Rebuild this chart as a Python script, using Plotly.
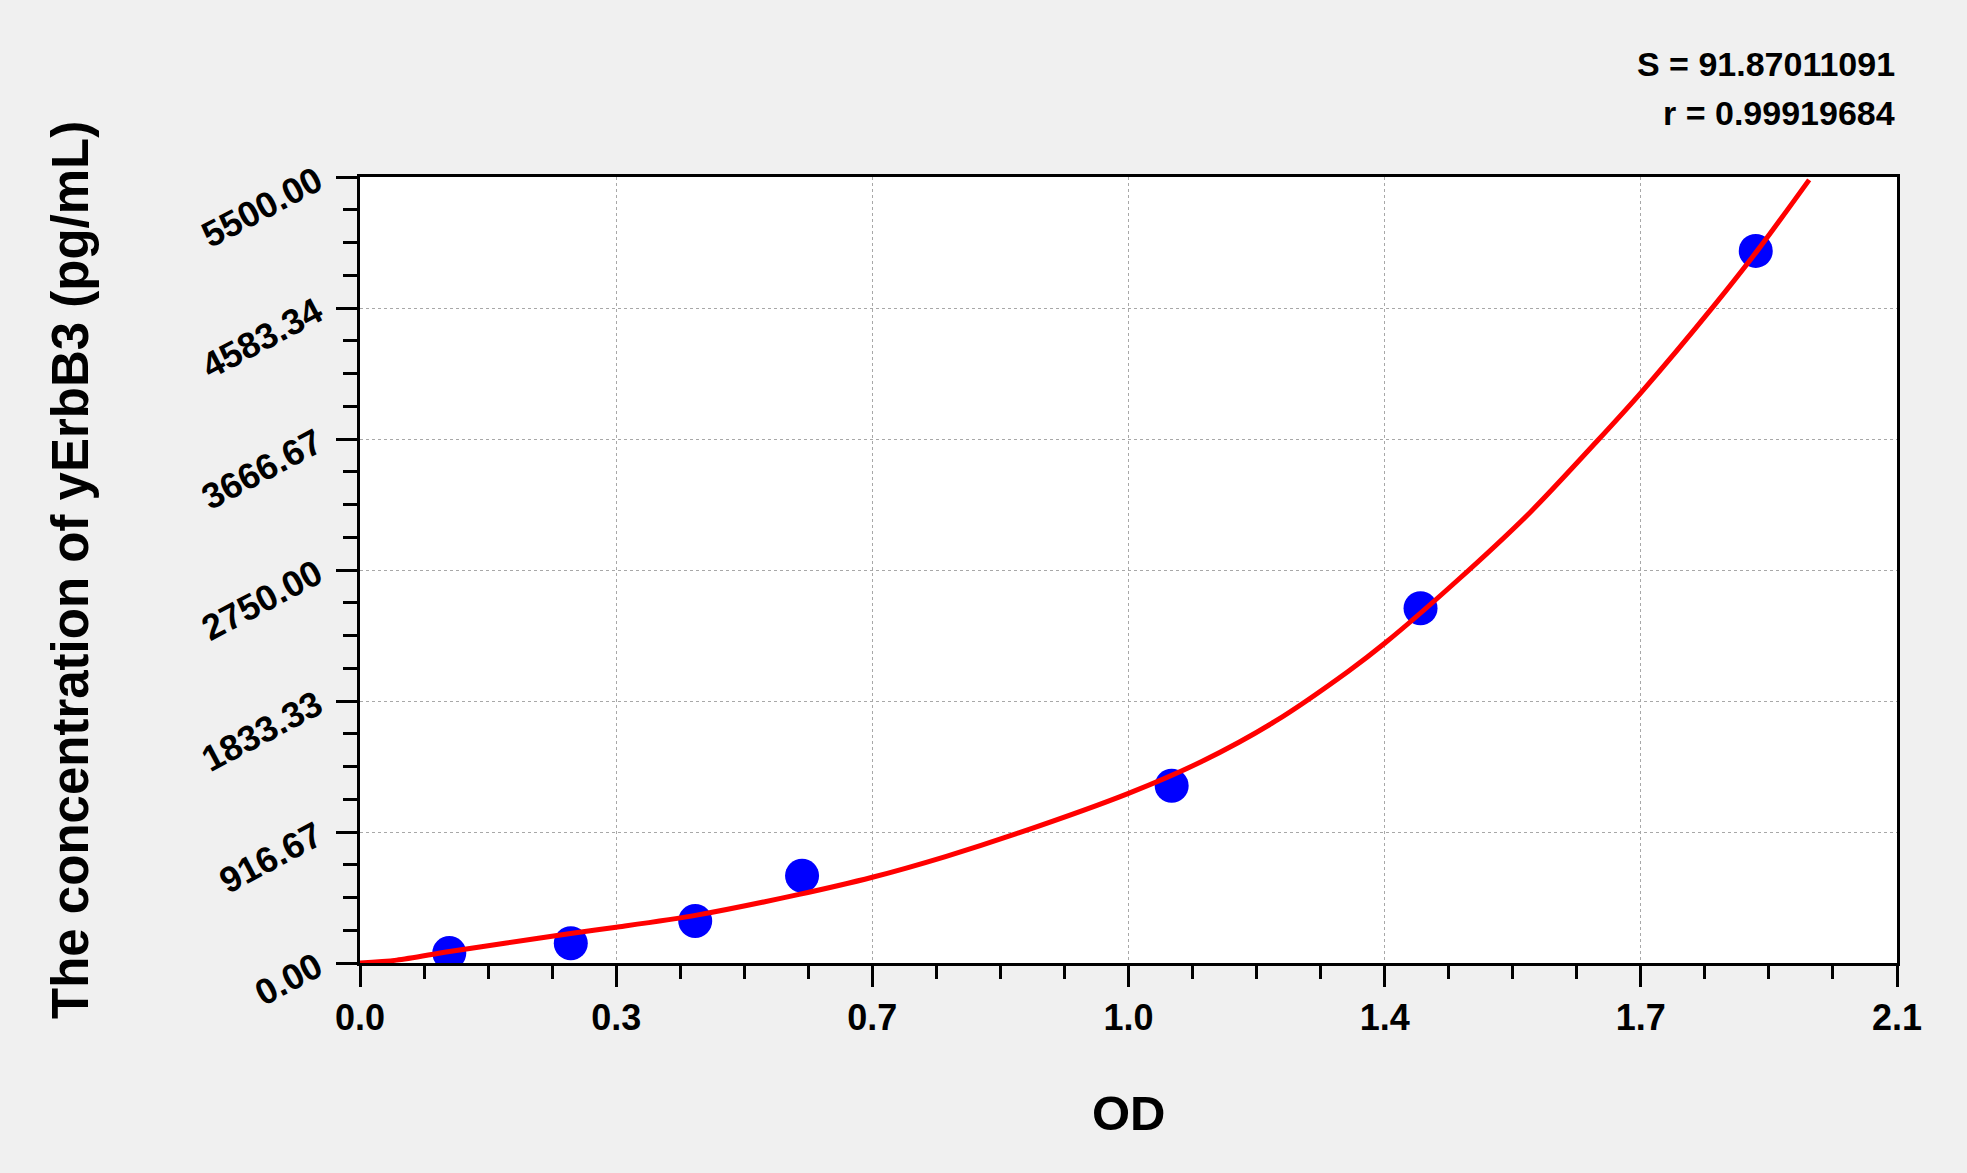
import numpy as np
import plotly.graph_objects as go

# Messpunkte (OD, Konzentration)
od_points = [0.122, 0.288, 0.458, 0.604, 1.109, 1.449, 1.907]
conc_points = [70, 138, 294, 611, 1240, 2482, 4983]

curve_od = [0.00, 0.05, 0.12, 0.20, 0.29, 0.35, 0.46, 0.60, 0.70, 0.80, 0.90,
            1.05, 1.15, 1.25, 1.35, 1.40, 1.50, 1.60, 1.69, 1.75, 1.85, 1.91, 1.98]
curve_conc = [0, 20, 79, 140, 208, 250, 335, 480, 600, 745, 910,
              1187, 1410, 1690, 2040, 2237, 2680, 3160, 3651, 3990, 4600, 4990, 5480]

x_ticks = [0.0, 0.35, 0.7, 1.05, 1.4, 1.75, 2.1]
x_labels = ["0.0", "0.3", "0.7", "1.0", "1.4", "1.7", "2.1"]
y_ticks = [0.0, 916.67, 1833.33, 2750.0, 3666.67, 4583.34, 5500.0]
y_labels = [f"{v:.2f}" for v in y_ticks]

s_value = "91.87011091"
r_value = "0.99919684"

font = "Liberation Sans, Arial, sans-serif"
bold = lambda size: dict(family=font, size=size, color="black", weight="bold")

fig = go.Figure()
fig.add_trace(go.Scatter(
    x=od_points, y=conc_points, mode="markers",
    marker=dict(color="#0000ff", size=34, line=dict(width=0)),
    showlegend=False,
))
fig.add_trace(go.Scatter(
    x=curve_od, y=curve_conc, mode="lines",
    line=dict(color="#ff0000", width=5, shape="spline", smoothing=0.8),
    showlegend=False,
))

axis_common = dict(
    showline=True, linecolor="black", linewidth=3, mirror=True,
    ticks="outside", tickcolor="black", tickwidth=3, ticklen=21,
    showgrid=True, gridcolor="#a8a8a8", gridwidth=1, griddash="dot",
    zeroline=False, automargin=False,
    tickfont=bold(36),
)

fig.update_xaxes(
    range=[0, 2.1], tickmode="array", tickvals=x_ticks, ticktext=x_labels,
    minor=dict(ticks="outside", tick0=0, dtick=0.0875, ticklen=13,
               tickwidth=3, tickcolor="black", showgrid=False),
    ticklabelstandoff=0,
    **axis_common,
)
fig.update_yaxes(
    range=[0, 5500], tickmode="array", tickvals=y_ticks, ticktext=y_labels,
    tickangle=-28,
    minor=dict(ticks="outside", tick0=0, dtick=5500 / 24, ticklen=14,
               tickwidth=3, tickcolor="black", showgrid=False),
    ticklabelstandoff=12,
    **axis_common,
)

# Achsentitel
fig.add_annotation(text="OD", xref="paper", yref="paper", x=0.5, y=-0.1908,
                   xanchor="center", yanchor="middle", showarrow=False, font=bold(49))
fig.add_annotation(text="The concentration of yErbB3 (pg/mL)", xref="paper", yref="paper",
                   x=-0.1887, y=0.5, xanchor="center", yanchor="middle", textangle=-90,
                   showarrow=False, font=bold(51))

fig.add_annotation(text=f"S = {s_value}", xref="paper", yref="paper",
                   x=1.0, y=1.144, xanchor="right", yanchor="middle", showarrow=False,
                   font=bold(34))
fig.add_annotation(text=f"r = {r_value}", xref="paper", yref="paper",
                   x=1.0, y=1.081, xanchor="right", yanchor="middle", showarrow=False,
                   font=bold(34))

fig.update_layout(
    width=1967, height=1173,
    margin=dict(l=360, r=70, t=177, b=210, autoexpand=False),
    paper_bgcolor="#f0f0f0", plot_bgcolor="white",
    showlegend=False,
)

fig.write_html("out.html", config={"displayModeBar": False},
               post_script="document.body.style.margin='0';"
               "document.body.style.background='#f0f0f0';")
